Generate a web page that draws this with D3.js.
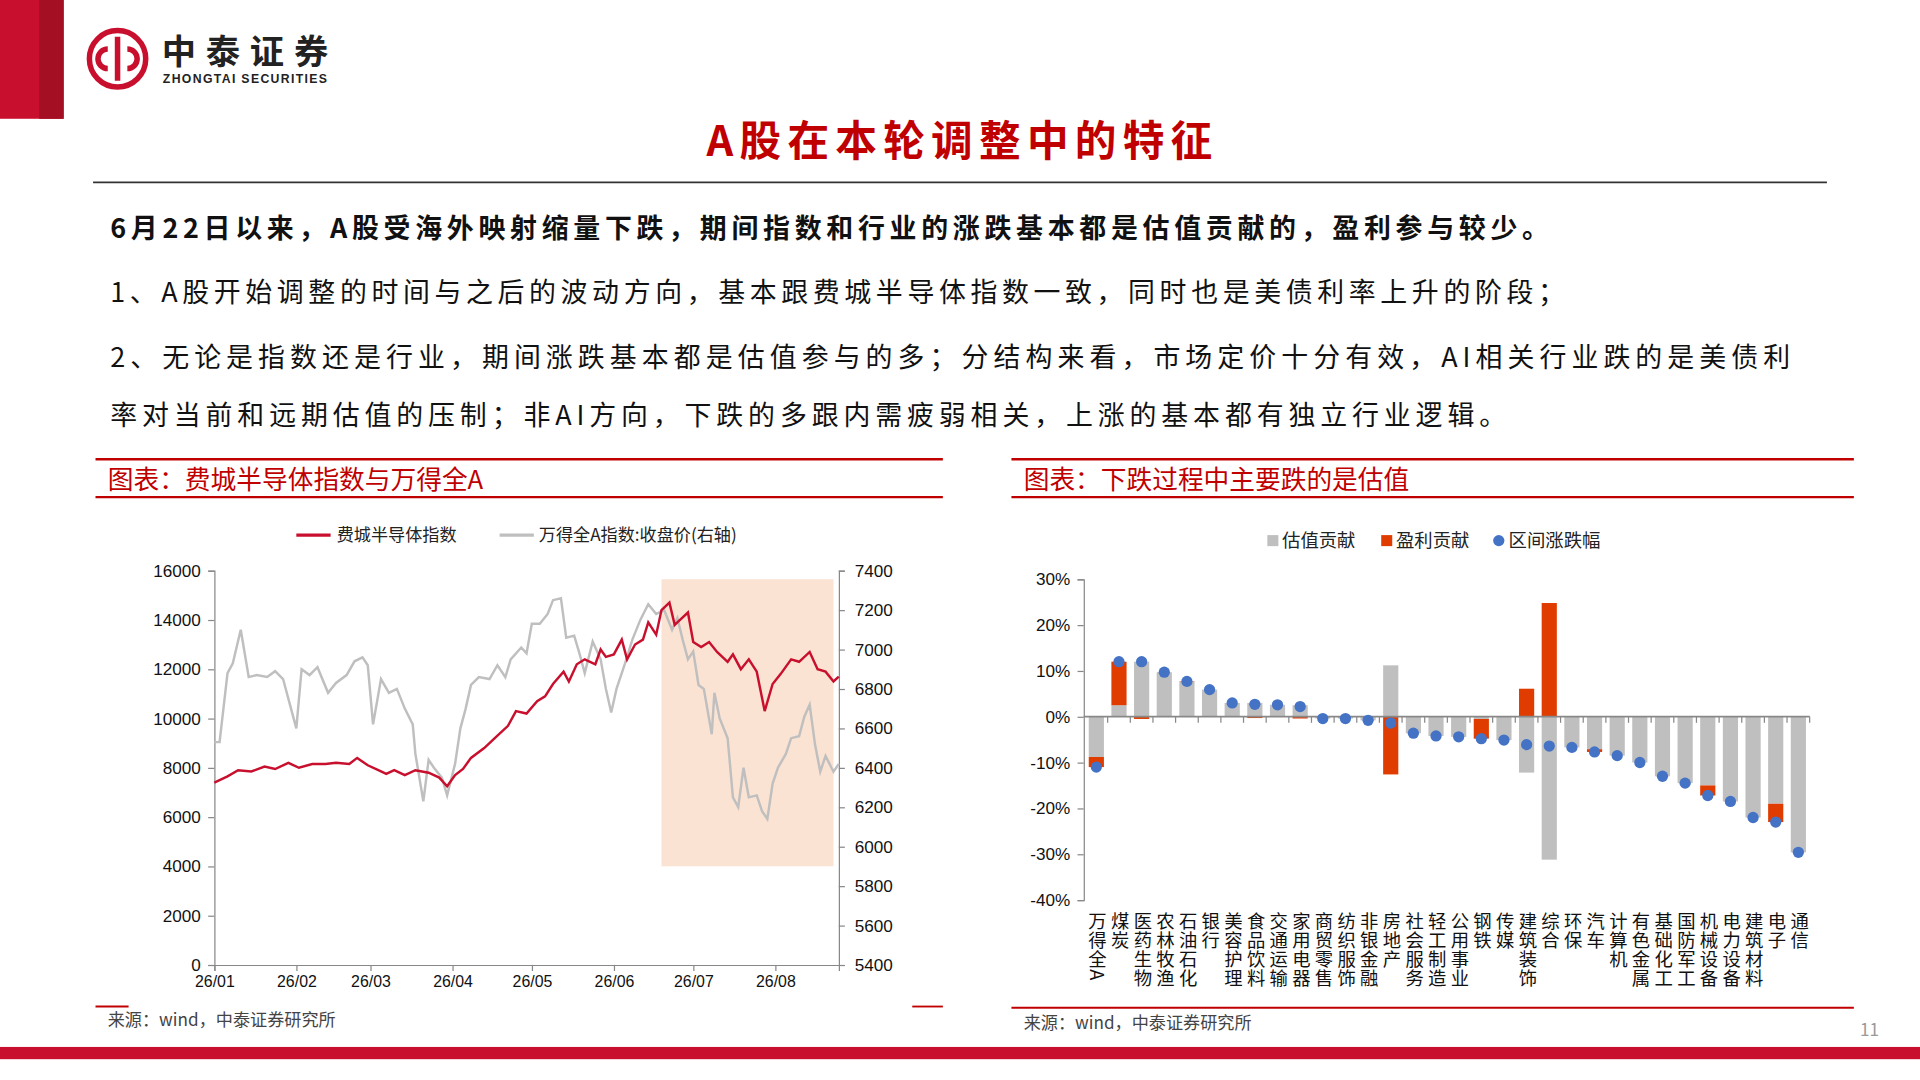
<!DOCTYPE html><html><head><meta charset="utf-8">
<script src="https://cdn.jsdelivr.net/npm/d3@7"></script>
<style>body{margin:0;background:#fff}svg{display:block}text{font-family:"Noto Sans CJK SC","Noto Sans",sans-serif}</style>
</head><body><svg id="c" width="1920" height="1080" viewBox="0 0 1568 882" preserveAspectRatio="none"></svg>
<script>
// ---- left chart data ----
const monthTickDays=[0,31,59,90,120,151,181,212];
const monthTickLabels=["26/01","26/02","26/03","26/04","26/05","26/06","26/07","26/08"];
const soxDays=[0,5,9,14,19,23,28,32,37,42,46,51,54,58,62,65,68,72,76,81,85,88,91,94,97,102,106,111,114,118,122,125,128,132,134,137,140,144,146,148,151,154,156,159,162,164,167,169,172,174,176,179,181,184,187,190,194,196,199,202,205,208,211,214,218,221,225,228,231,234,236];
const soxValues=[7400,7650,7900,7850,8050,7950,8200,8000,8150,8150,8200,8150,8400,8100,7900,7750,7900,7700,7900,7800,7600,7250,7700,7950,8400,8800,9200,9700,10300,10200,10700,10900,11400,11900,11500,12200,12400,12200,12800,12500,12600,13200,12400,13000,13200,13900,13400,14400,14700,13800,14000,14300,13100,12900,13100,12700,12300,12600,12000,12400,11900,10300,11400,11800,12400,12300,12700,12000,11900,11500,11700];
const windDays=[0,2,5,7,10,13,16,20,23,26,29,31,33,36,39,43,46,50,53,56,58,60,63,66,69,72,75,76,79,81,83,86,88,91,93,95,97,100,104,107,110,112,116,118,120,123,126,128,131,133,136,138,140,143,146,148,150,152,155,158,161,164,167,170,173,175,177,179,181,183,185,188,189,191,194,196,198,200,202,205,207,209,211,213,216,218,221,223,225,227,229,231,234,236];
const windValues=[6530,6530,6880,6930,7100,6860,6870,6860,6890,6850,6700,6600,6900,6870,6910,6780,6830,6870,6940,6960,6920,6620,6850,6780,6800,6700,6620,6470,6230,6440,6400,6350,6260,6420,6600,6700,6820,6860,6850,6920,6860,6950,7010,6980,7130,7130,7180,7250,7260,7060,7070,6980,6880,7040,6950,6800,6680,6800,6920,7050,7150,7230,7180,7200,7100,7160,7050,6950,6990,6820,6800,6570,6780,6650,6550,6250,6200,6400,6250,6260,6180,6140,6320,6400,6470,6550,6560,6660,6720,6520,6380,6460,6380,6420];
const shadeDays=[169,234];
const shadeValues=[4000,15650];
const leftTicks=[0,2000,4000,6000,8000,10000,12000,14000,16000];
const rightTicks=[5400,5600,5800,6000,6200,6400,6600,6800,7000,7200,7400];
// ---- right chart data ----
const industries=["万得全A","煤炭","医药生物","农林牧渔","石油石化","银行","美容护理","食品饮料","交通运输","家用电器","商贸零售","纺织服饰","非银金融","房地产","社会服务","轻工制造","公用事业","钢铁","传媒","建筑装饰","综合","环保","汽车","计算机","有色金属","基础化工","国防军工","机械设备","电力设备","建筑材料","电子","通信"];
const valuation=[-8.8,2.5,12,9.7,7.6,5.9,3,3,2.6,2.5,-0.4,-0.4,-0.8,11.2,-3.6,-4.2,-4.4,-0.5,-5.1,-12.2,-31.2,-6.7,-7.1,-8.5,-10,-13,-14.5,-15,-18.5,-22,-19,-29.6];
const earnings=[-2.2,9.5,-0.5,0,0.1,0,0,-0.3,0,-0.4,0,0,0,-12.6,0,0,0,-4.3,0,6.1,24.8,0,-0.6,0,0,0,0,-2.2,0,0,-4,0];
const totalChange=[-11,12,12,9.7,7.7,5.9,3,2.7,2.6,2.2,-0.4,-0.4,-0.8,-1.4,-3.6,-4.2,-4.4,-4.8,-5.1,-6.1,-6.4,-6.7,-7.7,-8.5,-10,-13,-14.5,-17.2,-18.5,-22,-23,-29.6];
const pctTicks=[-40,-30,-20,-10,0,10,20,30];

const svg=d3.select("#c");
const RED="#c00000", LINE_RED="#c8102e", GRAY="#bfbfbf", AX="#888";
function txt(x,y,s,o){const t=svg.append("text").attr("x",x).attr("y",y).text(s);
  o=o||{}; t.attr("font-size",o.size||14).attr("fill",o.fill||"#000").attr("font-weight",o.bold?"bold":"normal").attr("text-anchor",o.anchor||"start");
  if(o.family) t.style("font-family",o.family); if(o.ls) t.attr("letter-spacing",o.ls);
  if(o.len) t.attr("textLength",o.len).attr("lengthAdjust","spacing"); return t;}
// header
svg.append("rect").attr("x",0).attr("y",0).attr("width",52).attr("height",97).attr("fill","#c8102e");
svg.append("rect").attr("x",32).attr("y",0).attr("width",20).attr("height",97).attr("fill","#a50f24");
svg.append("circle").attr("cx",96).attr("cy",48).attr("r",23).attr("fill","none").attr("stroke","#c8102e").attr("stroke-width",4.5);
svg.append("path").attr("d","M96 30 V66 M88 40 a8 8 0 1 0 0 16 M104 40 a8 8 0 1 1 0 16").attr("fill","none").attr("stroke","#c8102e").attr("stroke-width",4.5);
txt(132,52,"中泰证券",{size:28,bold:true,fill:"#222",len:136});
txt(133,68,"ZHONGTAI SECURITIES",{size:10,bold:true,fill:"#222",family:"Arial,Liberation Sans",len:134});
txt(577,127,"A股在本轮调整中的特征",{size:34,bold:true,fill:RED,len:413});
svg.append("line").attr("x1",76).attr("x2",1492).attr("y1",149).attr("y2",149).attr("stroke","#333").attr("stroke-width",1.5);
txt(90,194,"6月22日以来，A股受海外映射缩量下跌，期间指数和行业的涨跌基本都是估值贡献的，盈利参与较少。",{size:22,bold:true,fill:"#111",len:1175});
txt(90,247,"1、A股开始调整的时间与之后的波动方向，基本跟费城半导体指数一致，同时也是美债利率上升的阶段；",{size:22,fill:"#111",len:1188});
txt(90,300,"2、无论是指数还是行业，期间涨跌基本都是估值参与的多；分结构来看，市场定价十分有效，AI相关行业跌的是美债利",{size:22,fill:"#111",len:1372});
txt(90,347,"率对当前和远期估值的压制；非AI方向，下跌的多跟内需疲弱相关，上涨的基本都有独立行业逻辑。",{size:22,fill:"#111",len:1140});
// panel headers
[[78,770,"图表：费城半导体指数与万得全A"],[826,1514,"图表：下跌过程中主要跌的是估值"]].forEach(p=>{
  svg.append("line").attr("x1",p[0]).attr("x2",p[1]).attr("y1",375).attr("y2",375).attr("stroke",RED).attr("stroke-width",2);
  svg.append("line").attr("x1",p[0]).attr("x2",p[1]).attr("y1",406).attr("y2",406).attr("stroke",RED).attr("stroke-width",2);
  txt(p[0]+10,399,p[2],{size:21,fill:RED});
});
// footer
svg.append("line").attr("x1",78).attr("x2",105).attr("y1",822).attr("y2",822).attr("stroke",RED).attr("stroke-width",1.5);
svg.append("line").attr("x1",745).attr("x2",770).attr("y1",822).attr("y2",822).attr("stroke",RED).attr("stroke-width",1.5);
svg.append("line").attr("x1",826).attr("x2",1514).attr("y1",823).attr("y2",823).attr("stroke",RED).attr("stroke-width",1.5);
txt(88,838,"来源：wind，中泰证券研究所",{size:14,fill:"#444"});
txt(836,840,"来源：wind，中泰证券研究所",{size:14,fill:"#444"});
svg.append("rect").attr("x",0).attr("y",855).attr("width",1568).attr("height",10).attr("fill","#c8102e");
txt(1519,846,"11",{size:14,fill:"#999"});

// ---- left chart ----
const x=d3.scaleLinear().domain([0,236]).range([175,685]);
const yL=d3.scaleLinear().domain([0,16000]).range([788,466]);
const yR=d3.scaleLinear().domain([5400,7400]).range([788,466]);
svg.append("rect").attr("x",x(shadeDays[0])).attr("width",x(shadeDays[1])-x(shadeDays[0]))
  .attr("y",yL(shadeValues[1])).attr("height",yL(shadeValues[0])-yL(shadeValues[1])).attr("fill","#fbe3d3");
const gL=svg.append("g").attr("transform","translate(175,0)").call(d3.axisLeft(yL).tickValues(leftTicks).tickSize(5).tickPadding(6).tickFormat(d3.format("d")));
const gR=svg.append("g").attr("transform","translate(685,0)").call(d3.axisRight(yR).tickValues(rightTicks).tickSize(5).tickPadding(8).tickFormat(d3.format("d")));
const gX=svg.append("g").attr("transform","translate(0,788)").call(d3.axisBottom(x).tickValues(monthTickDays).tickSize(5).tickPadding(4).tickFormat((d,i)=>monthTickLabels[i]));
[gL,gR,gX].forEach(g=>{g.selectAll("path,line").attr("stroke",AX);g.selectAll("text").attr("font-size",14).attr("fill","#111").style("font-family","Arial,Liberation Sans");});
gX.selectAll("text").attr("font-size",13);
svg.append("path").datum(windDays.map((d,i)=>[d,windValues[i]])).attr("d",d3.line().x(d=>x(d[0])).y(d=>yR(d[1])))
  .attr("fill","none").attr("stroke",GRAY).attr("stroke-width",2);
svg.append("path").datum(soxDays.map((d,i)=>[d,soxValues[i]])).attr("d",d3.line().x(d=>x(d[0])).y(d=>yL(d[1])))
  .attr("fill","none").attr("stroke",LINE_RED).attr("stroke-width",2);
svg.append("line").attr("x1",242).attr("x2",270).attr("y1",437).attr("y2",437).attr("stroke",LINE_RED).attr("stroke-width",2.5);
txt(275,442,"费城半导体指数",{size:14,fill:"#222"});
svg.append("line").attr("x1",408).attr("x2",436).attr("y1",437).attr("y2",437).attr("stroke",GRAY).attr("stroke-width",2.5);
txt(440,442,"万得全A指数:收盘价(右轴)",{size:14,fill:"#222"});

// ---- right chart ----
const xb=d3.scaleBand().domain(industries).range([886,1478]).paddingInner(0.33).paddingOuter(0.17);
const yp=d3.scaleLinear().domain([-40,30]).range([735,473]);
const gY=svg.append("g").attr("transform","translate(885,0)").call(d3.axisLeft(yp).tickValues(pctTicks).tickSize(5).tickPadding(6).tickFormat(d=>d+"%"));
gY.selectAll("path,line").attr("stroke",AX);gY.selectAll("text").attr("font-size",14).attr("fill","#111").style("font-family","Arial,Liberation Sans");
industries.forEach((c,i)=>{
  const v=valuation[i], e=earnings[i];
  let pos=0,neg=0;
  [[v,GRAY],[e,"#e03c00"]].forEach(([val,col])=>{
    if(val===0) return;
    let y0,y1;
    if(val>0){y0=pos;y1=pos+val;pos=y1;}else{y0=neg;y1=neg+val;neg=y1;}
    svg.append("rect").attr("x",xb(c)).attr("width",xb.bandwidth()).attr("y",yp(Math.max(y0,y1))).attr("height",Math.abs(yp(y0)-yp(y1))).attr("fill",col);
  });
});
svg.append("line").attr("x1",885).attr("x2",1478).attr("y1",yp(0)).attr("y2",yp(0)).attr("stroke",AX).attr("stroke-width",1.5);
const step=xb.step();
industries.forEach((c,i)=>{const xx=xb(c)-step*xb.paddingInner()/2+step; svg.append("line").attr("x1",xx).attr("x2",xx).attr("y1",yp(0)).attr("y2",yp(0)+5).attr("stroke",AX);});
svg.selectAll(".dot").data(totalChange).join("circle").attr("cx",(d,i)=>xb(industries[i])+xb.bandwidth()/2).attr("cy",d=>yp(d)).attr("r",4.6).attr("fill","#4472c4");
// vertical labels
industries.forEach(c=>{
  const cx=xb(c)+xb.bandwidth()/2;
  svg.append("text").attr("x",cx+1).attr("y",745).text(c).attr("font-size",15).attr("fill","#111")
    .style("writing-mode","vertical-rl").attr("letter-spacing",0.5);
});
// legend
svg.append("rect").attr("x",1035).attr("y",437).attr("width",9).attr("height",9).attr("fill",GRAY);
txt(1047,447,"估值贡献",{size:15,fill:"#222"});
svg.append("rect").attr("x",1128).attr("y",437).attr("width",9).attr("height",9).attr("fill","#e03c00");
txt(1140,447,"盈利贡献",{size:15,fill:"#222"});
svg.append("circle").attr("cx",1224).attr("cy",441.5).attr("r",4.6).attr("fill","#4472c4");
txt(1232,447,"区间涨跌幅",{size:15,fill:"#222"});
</script></body></html>
